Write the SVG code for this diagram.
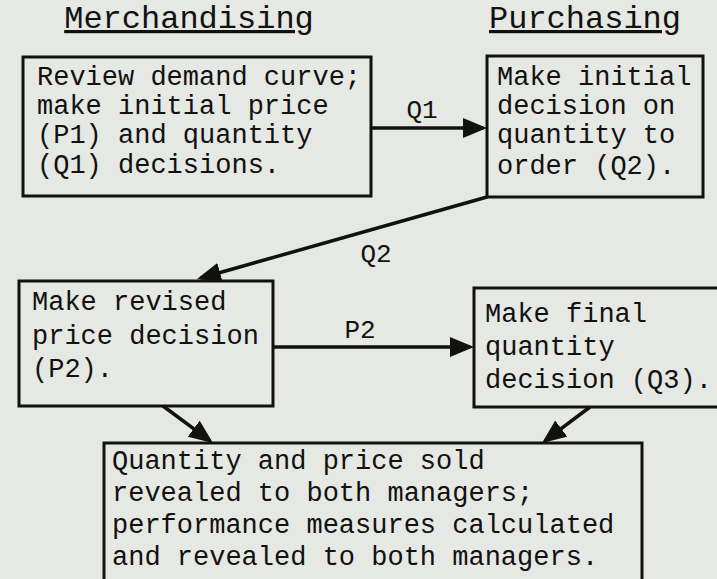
<svg xmlns="http://www.w3.org/2000/svg" width="717" height="579" viewBox="0 0 717 579">
<style>
.bg{fill:#e6e8e3}
.box{fill:#e6e8e3;stroke:#111;stroke-width:3}
.t{font-family:"Liberation Mono","DejaVu Sans Mono",monospace;font-size:27px;fill:#111}
.h{font-family:"Liberation Mono","DejaVu Sans Mono",monospace;font-size:32px;fill:#111;text-decoration:underline}
.lbl{font-family:"Liberation Mono","DejaVu Sans Mono",monospace;font-size:26px;fill:#111}
.c{fill:none;stroke:#111;stroke-width:3.5}
</style>
<defs>
<marker id="ah" markerUnits="userSpaceOnUse" markerWidth="28" markerHeight="24" refX="20" refY="10" orient="auto">
<path d="M0,0 L24,10 L0,20 z" fill="#111"/>
</marker>
</defs>
<rect class="bg" x="0" y="0" width="717" height="579"/>
<g id="headers">
<text class="h" x="189" y="28" text-anchor="middle">Merchandising</text>
<text class="h" x="585" y="28" text-anchor="middle">Purchasing</text>
</g>
<g id="n1">
<rect class="box" x="23" y="57" width="348" height="139"/>
<text class="t" x="37" y="85">Review demand curve;</text>
<text class="t" x="37" y="114">make initial price</text>
<text class="t" x="37" y="143">(P1) and quantity</text>
<text class="t" x="37" y="173">(Q1) decisions.</text>
</g>
<g id="n2">
<rect class="box" x="487" y="56" width="216" height="141"/>
<text class="t" x="497" y="85">Make initial</text>
<text class="t" x="497" y="114">decision on</text>
<text class="t" x="497" y="143">quantity to</text>
<text class="t" x="497" y="174">order (Q2).</text>
</g>
<g id="n3">
<rect class="box" x="19" y="281" width="254" height="125"/>
<text class="t" x="32" y="310">Make revised</text>
<text class="t" x="32" y="344">price decision</text>
<text class="t" x="32" y="377">(P2).</text>
</g>
<g id="n4">
<rect class="box" x="474" y="288" width="260" height="119"/>
<text class="t" x="485" y="322">Make final</text>
<text class="t" x="485" y="355">quantity</text>
<text class="t" x="485" y="388">decision (Q3).</text>
</g>
<g id="n5">
<rect class="box" x="104" y="443" width="538" height="160"/>
<text class="t" x="112" y="469">Quantity and price sold</text>
<text class="t" x="112" y="501">revealed to both managers;</text>
<text class="t" x="112" y="533">performance measures calculated</text>
<text class="t" x="112" y="565">and revealed to both managers.</text>
</g>
<g id="connectors">
<line class="c" x1="371" y1="128" x2="483" y2="128" marker-end="url(#ah)"/>
<text class="lbl" x="422" y="118" text-anchor="middle">Q1</text>
<line class="c" x1="487" y1="197" x2="200.8" y2="278" marker-end="url(#ah)"/>
<text class="lbl" x="376" y="262" text-anchor="middle">Q2</text>
<line class="c" x1="273" y1="347" x2="470" y2="347" marker-end="url(#ah)"/>
<text class="lbl" x="360" y="338" text-anchor="middle">P2</text>
<line class="c" x1="163" y1="406" x2="209.8" y2="440.6" marker-end="url(#ah)"/>
<line class="c" x1="590" y1="407" x2="545.2" y2="440.6" marker-end="url(#ah)"/>
</g>
</svg>
